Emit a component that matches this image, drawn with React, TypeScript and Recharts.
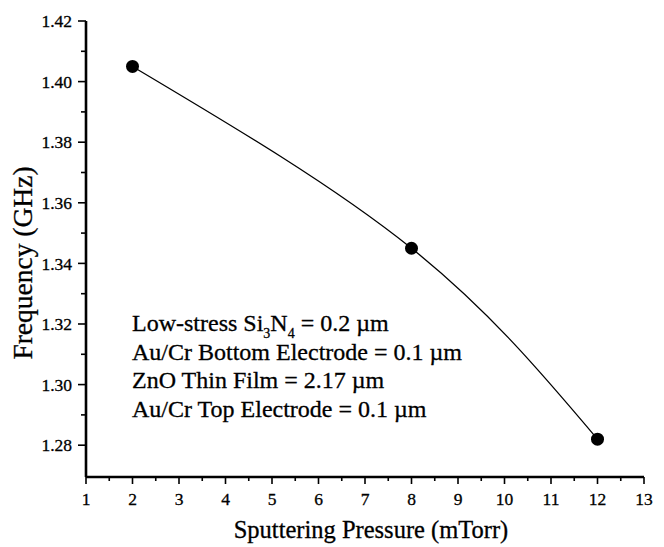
import { LineChart, Line, XAxis, YAxis, Customized } from "recharts";

// sputtering pressure (mTorr) vs resonant frequency (GHz)
const PRESSURE = [2, 8, 12];
const FREQUENCY = [1.405, 1.345, 1.282];

const X_TICKS = [1, 1.5, 2, 2.5, 3, 3.5, 4, 4.5, 5, 5.5, 6, 6.5, 7, 7.5, 8, 8.5, 9, 9.5, 10, 10.5, 11, 11.5, 12, 12.5, 13];
const Y_TICKS = [1.28, 1.29, 1.3, 1.31, 1.32, 1.33, 1.34, 1.35, 1.36, 1.37, 1.38, 1.39, 1.4, 1.41, 1.42];

const NOTES = [
  "Au/Cr Bottom Electrode = 0.1 \u00b5m",
  "ZnO Thin Film = 2.17 \u00b5m",
  "Au/Cr Top Electrode = 0.1 \u00b5m",
];

const data = PRESSURE.map((p, i) => ({ pressure: p, freq: FREQUENCY[i] }));

const serif = {
  fontFamily: "Liberation Serif, Times New Roman, serif",
  fill: "#000",
  stroke: "#000",
  strokeWidth: 0.3,
};

function XTick({ x, y, payload }: any) {
  const v = payload.value;
  const major = Number.isInteger(v);
  return (
    <g>
      <line x1={x} x2={x} y1={y} y2={y + (major ? 7 : 4)} stroke="#000" strokeWidth={1.6} />
      {major && (
        <text x={x} y={y + 28} textAnchor="middle" style={{ ...serif, fontSize: 17.5 }}>
          {v}
        </text>
      )}
    </g>
  );
}

function YTick({ x, y, payload }: any) {
  const v = payload.value;
  const major = Math.round(v * 100) % 2 === 0;
  return (
    <g>
      <line x1={x - (major ? 8 : 5)} x2={x} y1={y} y2={y} stroke="#000" strokeWidth={1.6} />
      {major && (
        <text x={x - 14} y={y} dy="0.35em" textAnchor="end" style={{ ...serif, fontSize: 17.5 }}>
          {v.toFixed(2)}
        </text>
      )}
    </g>
  );
}

function XTitle() {
  return (
    <text x={371} y={538} textAnchor="middle" style={{ ...serif, fontSize: 24.5 }}>
      Sputtering Pressure (mTorr)
    </text>
  );
}

function YTitle() {
  return (
    <text
      x={32}
      y={263}
      textAnchor="middle"
      transform="rotate(-90, 32, 263)"
      style={{ ...serif, fontSize: 27.5 }}
    >
      Frequency (GHz)
    </text>
  );
}

function Notes() {
  const x = 132;
  return (
    <g style={{ ...serif, fontSize: 24 }}>
      <text x={x} y={331}>
        Low-stress Si
        <tspan style={{ fontSize: 14 }} dy={7}>3</tspan>
        <tspan dy={-7}>N</tspan>
        <tspan style={{ fontSize: 14 }} dy={7}>4</tspan>
        <tspan dy={-7}> = 0.2 {"\u00b5m"}</tspan>
      </text>
      {NOTES.map((t, i) => (
        <text key={i} x={x} y={359.7 + i * 28.7}>
          {t}
        </text>
      ))}
    </g>
  );
}

export default function App() {
  return (
    <div style={{ position: "absolute", left: 0, top: 0, background: "#fff" }}>
      <LineChart width={664} height={547} data={data} margin={{ top: 21, right: 20, left: 0, bottom: 0 }}>
        <XAxis
          dataKey="pressure"
          type="number"
          domain={[1, 13]}
          ticks={X_TICKS}
          interval={0}
          height={70}
          tickSize={0}
          tickMargin={0}
          tickLine={false}
          tick={<XTick />}
          axisLine={{ stroke: "#000", strokeWidth: 2.6 }}
          allowDataOverflow
        />
        <XAxis
          xAxisId="top"
          orientation="top"
          type="number"
          domain={[1, 13]}
          height={0}
          tick={false}
          tickLine={false}
          axisLine={{ stroke: "#000", strokeWidth: 2.2 }}
        />
        <YAxis
          type="number"
          domain={[1.2695, 1.42]}
          ticks={Y_TICKS}
          interval={0}
          width={86}
          tickSize={0}
          tickMargin={0}
          tickLine={false}
          tick={<YTick />}
          axisLine={{ stroke: "#000", strokeWidth: 2.6 }}
          allowDataOverflow
        />
        <YAxis
          yAxisId="right"
          orientation="right"
          type="number"
          domain={[1.2695, 1.42]}
          width={0}
          tick={false}
          tickLine={false}
          axisLine={{ stroke: "#000", strokeWidth: 2.2 }}
        />
        <Line
          dataKey="freq"
          type="natural"
          stroke="#000"
          strokeWidth={1.3}
          dot={{ r: 6.5, fill: "#000", stroke: "#000", strokeWidth: 0 }}
          isAnimationActive={false}
        />
        <Customized component={<XTitle />} />
        <Customized component={<YTitle />} />
        <Customized component={<Notes />} />
      </LineChart>
    </div>
  );
}
